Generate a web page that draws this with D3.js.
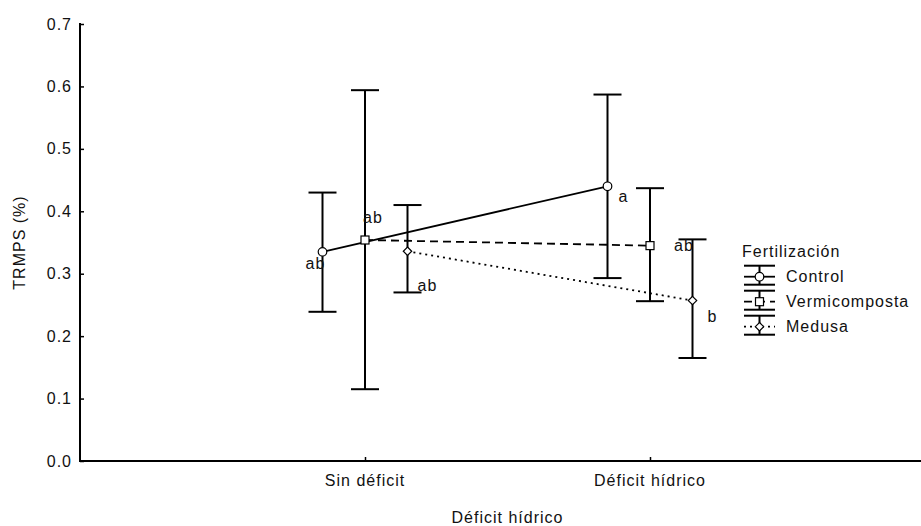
<!DOCTYPE html>
<html>
<head>
<meta charset="utf-8">
<script src="https://cdn.jsdelivr.net/npm/d3@7"></script>
<style>
  body { margin: 0; background: #fff; }
  svg text { font-family: "Liberation Sans", Arial, sans-serif; font-size: 16px; letter-spacing: 1px; fill: #111; }
</style>
</head>
<body>
<svg id="chart" width="921" height="526"></svg>
<script>
// data
const categories = ['Sin déficit', 'Déficit hídrico'];
const series = ['Control', 'Vermicomposta', 'Medusa'];
const means = {
  Control: [0.335, 0.440],
  Vermicomposta: [0.354, 0.345],
  Medusa: [0.336, 0.257]
};
const upper = {
  Control: [0.430, 0.587],
  Vermicomposta: [0.594, 0.437],
  Medusa: [0.410, 0.355]
};
const lower = {
  Control: [0.239, 0.293],
  Vermicomposta: [0.115, 0.256],
  Medusa: [0.270, 0.165]
};
const letters = {
  Control: ['ab', 'a'],
  Vermicomposta: ['ab', 'ab'],
  Medusa: ['ab', 'b']
};
const yTicks = [0, 0.1, 0.2, 0.3, 0.4, 0.5, 0.6, 0.7];

// where each letter sits relative to its point
const letterOffsets = {
  Control: [[-17, 17], [11, 16]],
  Vermicomposta: [[-2, -17], [24, 5]],
  Medusa: [[10, 40], [15, 21]]
};
const lineDash = { Control: null, Vermicomposta: '8,5', Medusa: '2,4' };

const svg = d3.select('#chart');
const mLeft = 80, mTop = 24, mBottom = 461, mRight = 935;

const x = d3.scalePoint().domain(categories).range([mLeft, mRight]).padding(1);
const dx = d3.scalePoint().domain(series).range([-42.5, 42.5]);
const y = d3.scaleLinear().domain([0, 0.7]).range([mBottom, mTop]);

// axes
const yAxis = svg.append('g').attr('transform', `translate(${mLeft},0)`)
  .call(d3.axisRight(y).tickValues(yTicks).tickSize(4).tickFormat(''));
yAxis.select('.domain').remove();
yAxis.selectAll('line').attr('stroke', '#000').attr('stroke-width', 1.5);
svg.append('line').attr('x1', mLeft).attr('x2', mLeft).attr('y1', mTop - 1).attr('y2', mBottom + 1)
  .attr('stroke', '#000').attr('stroke-width', 2);
svg.selectAll('.ylab').data(yTicks).join('text')
  .attr('x', 72).attr('y', d => y(d) + 5.5).attr('text-anchor', 'end')
  .text(d3.format('.1f'));

const xAxis = svg.append('g').attr('transform', `translate(0,${mBottom})`)
  .call(d3.axisTop(x).tickSize(4).tickFormat(''));
xAxis.select('.domain').remove();
xAxis.selectAll('line').attr('stroke', '#000').attr('stroke-width', 1.5);
svg.append('line').attr('x1', mLeft - 1).attr('x2', mRight).attr('y1', mBottom).attr('y2', mBottom)
  .attr('stroke', '#000').attr('stroke-width', 2);
svg.selectAll('.xlab').data(categories).join('text')
  .attr('x', d => x(d)).attr('y', 486).attr('text-anchor', 'middle').text(d => d);

svg.append('text').attr('x', (mLeft + mRight) / 2).attr('y', 523).attr('text-anchor', 'middle')
  .text('Déficit hídrico');
svg.append('text').attr('transform', `translate(25,${(mTop + mBottom) / 2}) rotate(-90)`)
  .attr('text-anchor', 'middle').text('TRMPS (%)');

// error bars
const cap = 14;
series.forEach(s => {
  categories.forEach((c, i) => {
    const cx = x(c) + dx(s);
    const g = svg.append('g').attr('stroke', '#000').attr('stroke-width', 2);
    g.append('line').attr('x1', cx).attr('x2', cx).attr('y1', y(upper[s][i])).attr('y2', y(lower[s][i]));
    g.append('line').attr('x1', cx - cap).attr('x2', cx + cap).attr('y1', y(upper[s][i])).attr('y2', y(upper[s][i]));
    g.append('line').attr('x1', cx - cap).attr('x2', cx + cap).attr('y1', y(lower[s][i])).attr('y2', y(lower[s][i]));
  });
});

// mean lines
const line = d3.line().x(d => d[0]).y(d => d[1]);
series.forEach(s => {
  const pts = categories.map((c, i) => [x(c) + dx(s), y(means[s][i])]);
  svg.append('path').attr('d', line(pts)).attr('fill', 'none').attr('stroke', '#000')
    .attr('stroke-width', 1.8).attr('stroke-dasharray', lineDash[s]);
});

function marker(g, s, cx, cy) {
  if (s === 'Control') {
    g.append('circle').attr('cx', cx).attr('cy', cy).attr('r', 4.3);
  } else if (s === 'Vermicomposta') {
    g.append('rect').attr('x', cx - 4).attr('y', cy - 4).attr('width', 8).attr('height', 8);
  } else {
    g.append('path').attr('d', `M${cx},${cy - 4.2}L${cx + 4.2},${cy}L${cx},${cy + 4.2}L${cx - 4.2},${cy}Z`);
  }
}

const markers = svg.append('g').attr('fill', '#fff').attr('stroke', '#000').attr('stroke-width', 1.2);
series.forEach(s => {
  categories.forEach((c, i) => {
    const cx = x(c) + dx(s), cy = y(means[s][i]);
    marker(markers, s, cx, cy);
    svg.append('text').attr('x', cx + letterOffsets[s][i][0]).attr('y', cy + letterOffsets[s][i][1])
      .text(letters[s][i]);
  });
});

// legend
const lg = svg.append('g');
lg.append('text').attr('x', 742).attr('y', 257).text('Fertilización');
series.forEach((s, i) => {
  const cy = 276.7 + i * 25, x0 = 744, x1 = 775, xc = 759.5;
  const g = lg.append('g').attr('stroke', '#000').attr('stroke-width', 2);
  g.append('line').attr('x1', x0).attr('x2', x1).attr('y1', cy - 11).attr('y2', cy - 11);
  g.append('line').attr('x1', x0).attr('x2', x1).attr('y1', cy + 8).attr('y2', cy + 8);
  g.append('line').attr('x1', xc).attr('x2', xc).attr('y1', cy - 11).attr('y2', cy + 8);
  g.append('line').attr('x1', x0).attr('x2', x1).attr('y1', cy).attr('y2', cy)
    .attr('stroke-width', 1.8).attr('stroke-dasharray', lineDash[s]);
  const m = lg.append('g').attr('fill', '#fff').attr('stroke', '#000').attr('stroke-width', 1.2);
  marker(m, s, xc, cy);
  lg.append('text').attr('x', 786).attr('y', cy + 5.5).text(s);
});
</script>
</body>
</html>
